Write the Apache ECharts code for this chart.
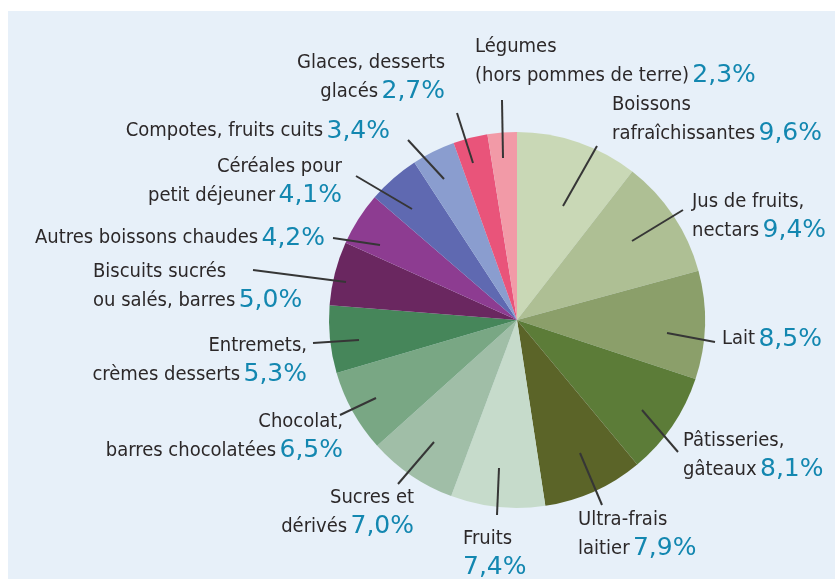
<!DOCTYPE html>
<html>
<head>
<meta charset="utf-8">
<script src="https://cdn.jsdelivr.net/npm/echarts@6/dist/echarts.min.js"></script>
<style>
  html, body { margin: 0; padding: 0; background: #ffffff; }
  #chart { width: 835px; height: 579px; }
</style>
</head>
<body>
<div id="chart"></div>
<script>
// Parts de consommation (%) - sens horaire depuis midi
const categories = [
  "Boissons\nrafraîchissantes",
  "Jus de fruits,\nnectars",
  "Lait",
  "Pâtisseries,\ngâteaux",
  "Ultra-frais\nlaitier",
  "Fruits\n",
  "Sucres et\ndérivés",
  "Chocolat,\nbarres chocolatées",
  "Entremets,\ncrèmes desserts",
  "Biscuits sucrés\nou salés, barres",
  "Autres boissons chaudes",
  "Céréales pour\npetit déjeuner",
  "Compotes, fruits cuits",
  "Glaces, desserts\nglacés",
  "Légumes\n(hors pommes de terre)"
];
const shares = [9.6, 9.4, 8.5, 8.1, 7.9, 7.4, 7.0, 6.5, 5.3, 5.0, 4.2, 4.1, 3.4, 2.7, 2.3];

const palette = [
  "#c9d8b6", "#aebf94", "#8b9f6a", "#5c7c38", "#5b6428",
  "#c6dbcb", "#a0bea7", "#79a784", "#46865a", "#6a2760",
  "#8d3c91", "#5f69b1", "#8a9dcf", "#e9547a", "#f29aa7"
];

// placement des étiquettes : [x d'ancrage, y du centre, alignement]
const labelSpots = [
  [612, 119, "left"], [692, 216, "left"], [722, 339, "left"],
  [683, 455, "left"], [578, 534, "left"], [463, 553, "left"],
  [414, 512, "right"], [343, 436, "right"], [307, 360, "right"],
  [93, 286, "left"], [325, 238, "right"], [342, 181, "right"],
  [390, 131, "right"], [445, 77, "right"], [475, 61, "left"]
];
// traits de rappel : début (dans le secteur) et fin (vers l'étiquette)
const leaderStarts = [
  [563, 206], [632, 241], [667, 333], [642, 410], [580, 453],
  [499, 468], [434, 442], [376, 398], [359, 340], [346, 282],
  [380, 245], [412, 209], [444, 179], [473, 163], [503, 158]
];
const leaderEnds = [
  [597, 146], [683, 210], [715, 342], [678, 452], [602, 505],
  [497, 515], [398, 484], [340, 415], [313, 343], [253, 270],
  [333, 238], [356, 176], [408, 140], [457, 113], [502, 100]
];

const chart = echarts.init(document.getElementById("chart"));

const pieData = categories.map((name, i) => ({
  name: name,
  value: shares[i],
  itemStyle: { color: palette[i] }
}));

function fmtPct(v) {
  return v.toFixed(1).replace(".", ",") + "%";
}

const option = {
  backgroundColor: "#ffffff",
  animation: false,
  graphic: [{
    type: "rect",
    z: -10,
    shape: { x: 8, y: 11, width: 827, height: 568 },
    style: { fill: "#e7f0f9" }
  }],
  series: [
    {
      // secteurs
      type: "pie",
      center: [517, 320],
      radius: 188,
      startAngle: 90,
      clockwise: true,
      silent: true,
      label: { show: false },
      labelLine: { show: false },
      itemStyle: { borderWidth: 0 },
      data: pieData
    },
    {
      // étiquettes + traits de rappel
      type: "pie",
      center: [517, 320],
      radius: 155,
      startAngle: 90,
      clockwise: true,
      silent: true,
      z: 3,
      avoidLabelOverlap: false,
      itemStyle: { color: "rgba(0,0,0,0)", borderWidth: 0 },
      label: {
        show: true,
        position: "outside",
        formatter: function (p) {
          const lines = p.name.split("\n");
          const last = lines.pop();
          const head = lines.map(l => "{n|" + l + "}\n").join("");
          const tail = last ? "{n|" + last + "} " : "";
          return head + tail + "{v|" + fmtPct(p.value) + "}";
        },
        rich: {
          n: {
            fontFamily: "DejaVu Sans Condensed",
            fontSize: 20,
            color: "#2c2829",
            lineHeight: 29
          },
          v: {
            fontFamily: "DejaVu Sans",
            fontSize: 25,
            color: "#1387b0",
            lineHeight: 29
          }
        }
      },
      labelLine: {
        show: true,
        length: 50,
        length2: 0,
        lineStyle: { color: "#363636", width: 2 }
      },
      labelLayout: function (params) {
        const i = params.dataIndex;
        const spot = labelSpots[i];
        return {
          x: spot[0],
          y: spot[1],
          align: spot[2],
          verticalAlign: "middle",
          labelLinePoints: [leaderStarts[i], leaderEnds[i], leaderEnds[i]]
        };
      },
      data: categories.map((name, i) => ({ name: name, value: shares[i] }))
    }
  ]
};

chart.setOption(option);
</script>
</body>
</html>
